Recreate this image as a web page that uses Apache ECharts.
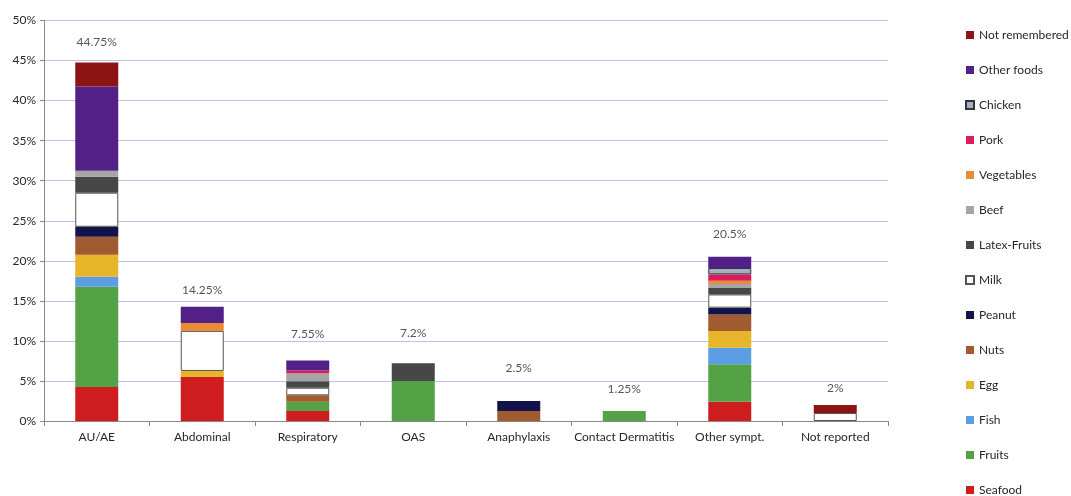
<!DOCTYPE html>
<html>
<head>
<meta charset="utf-8">
<script src="https://cdn.jsdelivr.net/npm/echarts@6/dist/echarts.min.js"></script>
<style>
  html, body { margin: 0; padding: 0; background: #ffffff; }
  #chart { width: 1071px; height: 496px; }
</style>
</head>
<body>
<div id="chart"></div>
<script>
// Symptom groups along the x axis
const categories = ['AU/AE', 'Abdominal', 'Respiratory', 'OAS', 'Anaphylaxis', 'Contact Dermatitis', 'Other sympt.', 'Not reported'];

// Share of patients (%) per food trigger, one value per symptom group
const seafood       = [4.25, 5.5, 1.25, 0,   0,    0,    2.4,  0];
const fruits        = [12.5, 0,   1.15, 5.0, 0,    1.25, 4.7,  0];
const fish          = [1.25, 0,   0,    0,   0,    0,    2.05, 0];
const egg           = [2.75, 0.75,0,    0,   0,    0,    2.1,  0];
const nuts          = [2.25, 0,   0.8,  0,   1.25, 0,    2.05, 0];
const peanut        = [1.25, 0,   0,    0,   1.25, 0,    0.85, 0];
const milk          = [4.25, 5.0, 0.95, 0,   0,    0,    1.65, 1.0];
const latexFruits   = [2.0,  0,   0.8,  2.2, 0,    0,    0.8,  0];
const beef          = [0.75, 0,   1.0,  0,   0,    0,    0.5,  0];
const vegetables    = [0,    1.0, 0,    0,   0,    0,    0.4,  0];
const pork          = [0,    0,   0.35, 0,   0,    0,    0.8,  0];
const chicken       = [0,    0,   0,    0,   0,    0,    0.8,  0];
const otherFoods    = [10.5, 2.0, 1.25, 0,   0,    0,    1.4,  0];
const notRemembered = [3.0,  0,   0,    0,   0,    0,    0,    1.0];

// Totals written above each column
const totals = [44.75, 14.25, 7.55, 7.2, 2.5, 1.25, 20.5, 2];

// Y axis ticks
const yMin = 0, yMax = 50, yStep = 5;

// Stack order, bottom to top
const stackSeries = [
  { name: 'Seafood',        values: seafood,       color: '#cf1c1f' },
  { name: 'Fruits',         values: fruits,        color: '#55a145' },
  { name: 'Fish',           values: fish,          color: '#5c9ee3' },
  { name: 'Egg',            values: egg,           color: '#e6b52a' },
  { name: 'Nuts',           values: nuts,          color: '#a15b31' },
  { name: 'Peanut',         values: peanut,        color: '#13134b' },
  { name: 'Milk',           values: milk,          color: '#ffffff', border: '#555555' },
  { name: 'Latex-Fruits',   values: latexFruits,   color: '#474747' },
  { name: 'Beef',           values: beef,          color: '#a5a5a5' },
  { name: 'Vegetables',     values: vegetables,    color: '#e88d35' },
  { name: 'Pork',           values: pork,          color: '#d91e5b' },
  { name: 'Chicken',        values: chicken,       color: '#a4afc4', border: '#333333' },
  { name: 'Other foods',    values: otherFoods,    color: '#532087' },
  { name: 'Not remembered', values: notRemembered, color: '#8c1414' }
];

// Vertical lift of each total label above its column (px)
const labelLift = [14, 10, 20, 24, 26, 15, 16, 10];

const font = 'Lato, "Open Sans", sans-serif';

const series = stackSeries.map(s => ({
  name: s.name,
  type: 'bar',
  stack: 'total',
  barWidth: 43,
  data: s.values.map(v => (v === 0 ? '-' : v)),
  itemStyle: s.border
    ? { color: s.color, borderColor: s.border, borderWidth: 1 }
    : { color: s.color },
  emphasis: { disabled: true }
}));

series.push({
  name: 'totals',
  type: 'scatter',
  symbolSize: 1,
  itemStyle: { color: 'rgba(0,0,0,0)' },
  silent: true,
  data: totals.map((v, i) => ({
    value: v,
    label: { distance: labelLift[i] }
  })),
  label: {
    show: true,
    position: 'top',
    color: '#2b2b2b',
    fontFamily: font,
    fontSize: 12,
    formatter: p => p.value + '%'
  }
});

const chart = echarts.init(document.getElementById('chart'), null, { renderer: 'canvas' });
chart.setOption({
  animation: false,
  backgroundColor: '#ffffff',
  grid: { left: 44, right: 183, top: 20.5, bottom: 75, containLabel: false },
  legend: {
    orient: 'vertical',
    left: 965,
    top: 29,
    height: 480,
    padding: 0,
    itemWidth: 8,
    itemHeight: 8,
    itemGap: 23,
    icon: 'rect',
    data: stackSeries.map(s => s.name).reverse(),
    textStyle: { color: '#262626', fontFamily: font, fontSize: 12 },
    selectedMode: false
  },
  xAxis: {
    type: 'category',
    data: categories,
    axisLine: { lineStyle: { color: '#888888' } },
    axisTick: { show: true, length: 5, lineStyle: { color: '#888888' } },
    axisLabel: { color: '#262626', fontFamily: font, fontSize: 12, margin: 10, interval: 0 }
  },
  yAxis: {
    type: 'value',
    min: yMin,
    max: yMax,
    interval: yStep,
    axisLine: { show: true, lineStyle: { color: '#888888' } },
    axisTick: { show: true, length: 4, lineStyle: { color: '#888888' } },
    axisLabel: { color: '#262626', fontFamily: font, fontSize: 12, margin: 8, formatter: '{value}%' },
    splitLine: { lineStyle: { color: '#bfbfee', width: 1 } }
  },
  series: series
});
</script>
</body>
</html>
